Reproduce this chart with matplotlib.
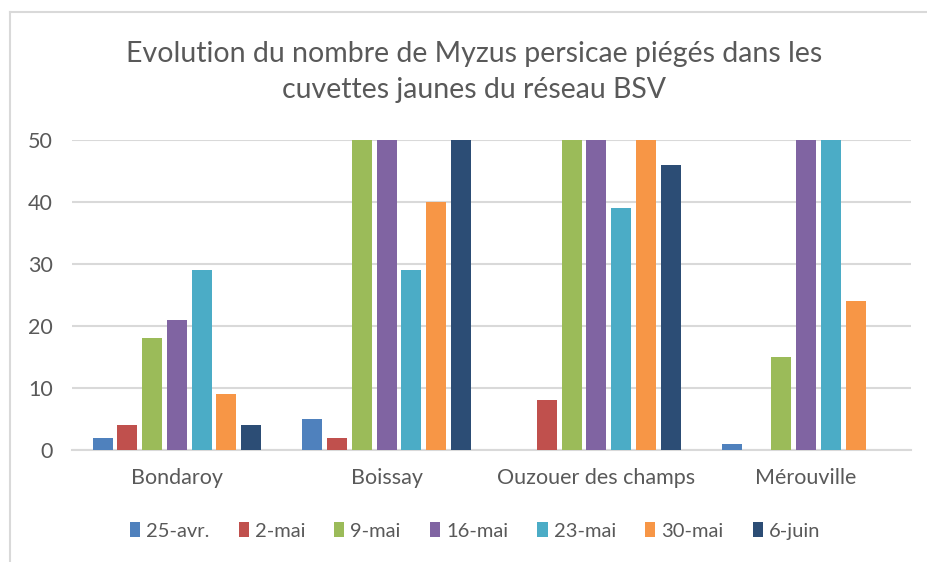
import numpy as np
import matplotlib
matplotlib.use("Agg")
import matplotlib.pyplot as plt
from matplotlib.lines import Line2D

plt.rcParams['font.family'] = ['Lato', 'DejaVu Sans']

# données (valeurs plafonnées à 50)
sites = ['Bondaroy', 'Boissay', 'Ouzouer des champs', 'Mérouville']
dates = ['25-avr.', '2-mai', '9-mai', '16-mai', '23-mai', '30-mai', '6-juin']
v_25avr = [2, 5, 0, 1]
v_2mai = [4, 2, 8, 0]
v_9mai = [18, 50, 50, 15]
v_16mai = [21, 50, 50, 50]
v_23mai = [29, 29, 39, 50]
v_30mai = [9, 40, 50, 24]
v_6juin = [4, 50, 46, 0]
series = [v_25avr, v_2mai, v_9mai, v_16mai, v_23mai, v_30mai, v_6juin]
colors = ['#4F81BD', '#C0504D', '#9BBB59', '#8064A2', '#4BACC6', '#F79646', '#2C4D75']

W, H = 927, 562
fig = plt.figure(figsize=(W / 100, H / 100), dpi=100)
ax = fig.add_axes([72 / W, 1 - 450 / H, (911 - 72) / W, (450 - 140) / H])

x = np.arange(len(sites))
step = 0.118
width = 0.095
for j, (vals, c) in enumerate(zip(series, colors)):
    ax.bar(x + (j - 3) * step, vals, width, color=c, label=dates[j], zorder=3)

ax.set_xlim(-0.5, 3.5)
ax.set_ylim(0, 50)
ax.set_yticks([0, 10, 20, 30, 40, 50])
ax.yaxis.grid(True, color='#D9D9D9', linewidth=1.5, zorder=0)
ax.set_xticks(x)
ax.set_xticklabels(sites)
for s in ['top', 'right', 'left']:
    ax.spines[s].set_visible(False)
ax.spines['bottom'].set_color('#D9D9D9')
ax.spines['bottom'].set_linewidth(1.5)
ax.tick_params(axis='both', length=0, colors='#595959', labelsize=15.5)
ax.tick_params(axis='x', pad=13)
ax.tick_params(axis='y', pad=14)

fig.text(474 / W, 1 - 72 / H,
         'Evolution du nombre de Myzus persicae piégés dans les\ncuvettes jaunes du réseau BSV',
         ha='center', va='center', fontsize=20.5, color='#595959', linespacing=1.5)

fig.legend(loc='center', bbox_to_anchor=(475 / W, 1 - 531 / H), ncol=7, frameon=False,
           fontsize=14.5, handlelength=0.5, handleheight=0.75, handletextpad=0.3,
           columnspacing=1.45, labelcolor='#595959')

# bordure du cadre (haut et gauche)
fig.add_artist(Line2D([10 / W, 10 / W], [0, 1 - 12 / H], color='#D9D9D9', lw=1.5))
fig.add_artist(Line2D([10 / W, 1], [1 - 12 / H, 1 - 12 / H], color='#D9D9D9', lw=1.5))

fig.savefig('out.png', dpi=100)
